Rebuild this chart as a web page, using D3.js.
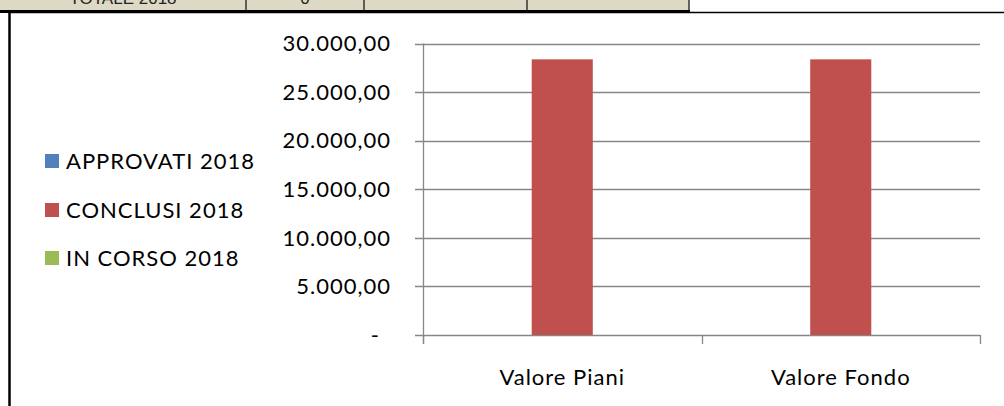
<!DOCTYPE html>
<html><head><meta charset="utf-8">
<script src="https://cdn.jsdelivr.net/npm/d3@7"></script>
<style>
html,body{margin:0;padding:0;background:#fff;}
svg{display:block;}
</style></head>
<body>
<svg id="c" width="1004" height="406"></svg>
<script>
const categories = ["Valore Piani", "Valore Fondo"];
const seriesNames = ["APPROVATI 2018", "CONCLUSI 2018", "IN CORSO 2018"];
const seriesColors = ["#4f81bd", "#c0504d", "#9bbb59"];
const approvati = [0, 0];
const conclusi = [28370, 28370];
const inCorso = [0, 0];
const yTicks = [0, 5000, 10000, 15000, 20000, 25000, 30000];
const tableCells = ["TOTALE 2018", "0", "", ""];

const seriesValues = [approvati, conclusi, inCorso];
const svg = d3.select("#c");
const FONT = "Lato, 'Noto Sans', sans-serif";
const LS = 1;

// top table fragment (clipped at the top edge, as in the source)
const cellEdges = [0, 246, 364, 527, 689];
const tbl = svg.append("g");
tableCells.forEach((t, i) => {
  tbl.append("rect").attr("x", cellEdges[i]).attr("y", 0)
    .attr("width", cellEdges[i+1] - cellEdges[i]).attr("height", 11)
    .attr("fill", "#ddd9c4");
  tbl.append("text").attr("x", (cellEdges[i] + cellEdges[i+1]) / 2).attr("y", 4)
    .attr("text-anchor", "middle").attr("font-family", "'Liberation Sans', Arial, sans-serif")
    .attr("font-size", 17).attr("fill", "#222").text(t);
});
cellEdges.slice(1).forEach(x => {
  tbl.append("line").attr("x1", x).attr("x2", x).attr("y1", 0).attr("y2", 11)
    .attr("stroke", "#333").attr("stroke-width", 1.5);
});
tbl.append("line").attr("x1", 0).attr("x2", 690).attr("y1", 11.5).attr("y2", 11.5)
  .attr("stroke", "#000").attr("stroke-width", 3);

// chart frame
svg.append("line").attr("x1", 9).attr("x2", 1004).attr("y1", 12.5).attr("y2", 12.5)
  .attr("stroke", "#000").attr("stroke-width", 1.5);
svg.append("line").attr("x1", 9.5).attr("x2", 9.5).attr("y1", 11).attr("y2", 406)
  .attr("stroke", "#000").attr("stroke-width", 2.5);

// scales
const x0 = d3.scaleBand().domain(categories).range([423, 980]).padding(0);
const x1 = d3.scaleBand().domain(seriesNames).range([0, x0.bandwidth()])
  .paddingInner(0).paddingOuter(0.78);
const y = d3.scaleLinear().domain([0, 30000]).range([335, 43.5]);

const fmt = v => v === 0 ? "-" : d3.formatLocale({decimal: ",", thousands: ".", grouping: [3]}).format(",.2f")(v);

// gridlines + y ticks
const gridColor = "#878787";
const gy = svg.append("g");
gy.selectAll("line.grid").data(yTicks).join("line")
  .attr("x1", 415).attr("x2", 980)
  .attr("y1", d => Math.round(y(d)) + 0.5).attr("y2", d => Math.round(y(d)) + 0.5)
  .attr("stroke", gridColor).attr("stroke-width", 1.3);
gy.selectAll("text").data(yTicks).join("text")
  .attr("x", d => d === 0 ? 380 : 391)
  .attr("y", d => y(d)).attr("dy", "0.35em")
  .attr("text-anchor", "end").attr("font-family", FONT).attr("font-size", 22)
  .attr("letter-spacing", LS)
  .attr("fill", "#000").text(fmt);

// y axis line
svg.append("line").attr("x1", 423.5).attr("x2", 423.5).attr("y1", y(30000)).attr("y2", 344)
  .attr("stroke", gridColor).attr("stroke-width", 1.3);

// x axis ticks
const xt = [x0.range()[0], ...categories.map(c => x0(c) + x0.bandwidth())];
svg.selectAll("line.xt").data(xt).join("line")
  .attr("x1", d => Math.round(d) + 0.5).attr("x2", d => Math.round(d) + 0.5)
  .attr("y1", 335).attr("y2", 344)
  .attr("stroke", gridColor).attr("stroke-width", 1.3);

// bars
categories.forEach((c, ci) => {
  seriesNames.forEach((s, si) => {
    const v = seriesValues[si][ci];
    if (v <= 0) return;
    svg.append("rect")
      .attr("x", x0(c) + x1(s)).attr("width", x1.bandwidth())
      .attr("y", y(v)).attr("height", y(0) - y(v))
      .attr("fill", seriesColors[si]);
  });
});

// x labels
svg.selectAll("text.xl").data(categories).join("text")
  .attr("x", d => x0(d) + x0.bandwidth() / 2).attr("y", 385)
  .attr("text-anchor", "middle").attr("font-family", FONT).attr("font-size", 22)
  .attr("letter-spacing", LS)
  .attr("fill", "#000").text(d => d);

// legend
const legY = [161, 210, 258];
const lg = svg.append("g");
seriesNames.forEach((s, i) => {
  lg.append("rect").attr("x", 45).attr("y", legY[i] - 7).attr("width", 14).attr("height", 14)
    .attr("fill", seriesColors[i]);
  lg.append("text").attr("x", 66).attr("y", legY[i]).attr("dy", "0.35em")
    .attr("font-family", FONT).attr("font-size", 22).attr("letter-spacing", LS)
    .attr("fill", "#000").text(s);
});
</script>
</body></html>
